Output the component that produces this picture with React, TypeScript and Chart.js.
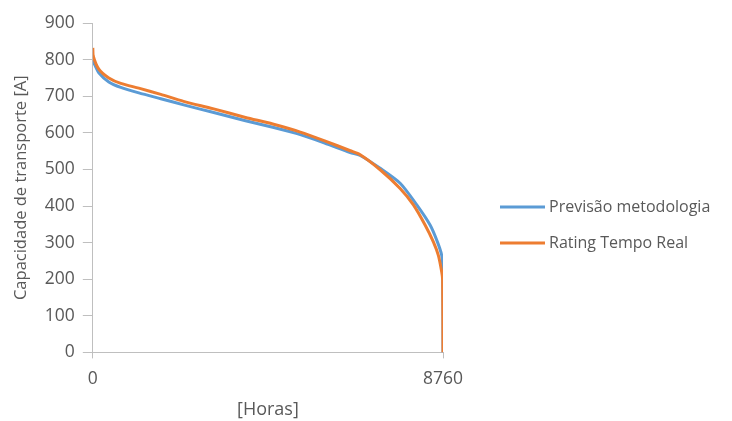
import React, { useEffect, useRef } from "react";
import { Chart, registerables } from "chart.js";

Chart.register(...registerables);

const seriesNames = ["Previsão metodologia", "Rating Tempo Real"];
const xTickValues = [0, 8760];
const yTickMax = 900;

const previsaoHours = [0, 30, 150, 400, 700, 1150, 1700, 2320, 3000, 3820, 4500, 5190, 5800, 6440, 6689, 7188, 7688, 8104, 8437, 8620, 8728, 8755, 8760];
const previsaoValues = [800, 790, 764, 739, 724, 709, 693, 675, 656, 633, 615, 595, 572, 546, 538, 503, 462, 403, 348, 302, 265, 230, 0];

const ratingHours = [0, 10, 150, 400, 700, 1150, 1700, 2270, 3000, 3820, 4500, 5190, 5800, 6440, 6689, 7188, 7688, 8020, 8312, 8519, 8644, 8728, 8750, 8760];
const ratingValues = [832, 810, 774, 750, 735, 722, 705, 686, 666, 642, 624, 602, 578, 551, 540, 499, 448, 403, 348, 302, 265, 220, 200, 0];

const colors = ["#5B9BD5", "#ED7D31"];
const textColor = "#595959";
const axisColor = "#BFBFBF";
const fontFamily = "'Open Sans', 'Liberation Sans', sans-serif";

const legendPlugin = {
  id: "customLegend",
  afterDraw(chart: any) {
    const ctx = chart.ctx;
    const x0 = 500;
    const lineLen = 45;
    const ys = [207, 243];
    ctx.save();
    chart.data.datasets.forEach((ds: any, i: number) => {
      ctx.strokeStyle = ds.borderColor;
      ctx.lineWidth = 3;
      ctx.beginPath();
      ctx.moveTo(x0, ys[i]);
      ctx.lineTo(x0 + lineLen, ys[i]);
      ctx.stroke();
      ctx.fillStyle = textColor;
      ctx.font = `16px ${fontFamily}`;
      ctx.textBaseline = "middle";
      ctx.textAlign = "left";
      ctx.fillText(ds.label, x0 + lineLen + 4, ys[i]);
    });
    ctx.restore();
  },
};

export default function App() {
  const ref = useRef<HTMLCanvasElement>(null);
  useEffect(() => {
    if (!ref.current) return;
    const chart = new Chart(ref.current, {
      type: "line",
      data: {
        datasets: [
          {
            label: seriesNames[0],
            data: previsaoHours.map((h, i) => ({ x: h, y: previsaoValues[i] })),
            borderColor: colors[0],
            backgroundColor: colors[0],
            borderWidth: 3,
            pointRadius: 0,
            tension: 0.25,
            order: 2,
          },
          {
            label: seriesNames[1],
            data: ratingHours.map((h, i) => ({ x: h, y: ratingValues[i] })),
            borderColor: colors[1],
            backgroundColor: colors[1],
            borderWidth: 3,
            pointRadius: 0,
            tension: 0.25,
            order: 1,
          },
        ],
      },
      options: {
        responsive: false,
        animation: false,
        layout: { padding: { left: 11, right: 289, top: 23, bottom: 0 } },
        plugins: { legend: { display: false }, tooltip: { enabled: false } },
        scales: {
          x: {
            type: "linear",
            min: 0,
            max: 8760,
            afterBuildTicks: (scale: any) => {
              scale.ticks = xTickValues.map((v) => ({ value: v }));
            },
            grid: { display: true, drawOnChartArea: false, drawTicks: true, tickLength: 6, color: axisColor },
            border: { display: true, color: axisColor, width: 1 },
            ticks: {
              color: textColor,
              font: { size: 17.5, family: fontFamily },
              padding: 10,
              maxRotation: 0,
              callback: (v: any) => String(v),
            },
            title: { display: true, text: "[Horas]", color: textColor, font: { size: 18, family: fontFamily }, padding: { top: 0, bottom: 0 } },
          },
          y: {
            type: "linear",
            min: 0,
            max: yTickMax,
            ticks: { stepSize: 100, color: textColor, font: { size: 17.5, family: fontFamily }, padding: 8 },
            grid: { display: true, drawOnChartArea: false, drawTicks: true, tickLength: 10, color: axisColor },
            border: { display: true, color: axisColor, width: 1 },
            title: { display: true, text: "Capacidade de transporte [A]", color: textColor, font: { size: 16.5, family: fontFamily }, padding: { top: 0, bottom: 6 } },
          },
        },
      },
      plugins: [legendPlugin],
    });
    return () => chart.destroy();
  }, []);
  return (
    <div style={{ position: "fixed", left: 0, top: 0, width: 732, height: 421, background: "#fff" }}>
      <canvas ref={ref} width={732} height={421} />
    </div>
  );
}
